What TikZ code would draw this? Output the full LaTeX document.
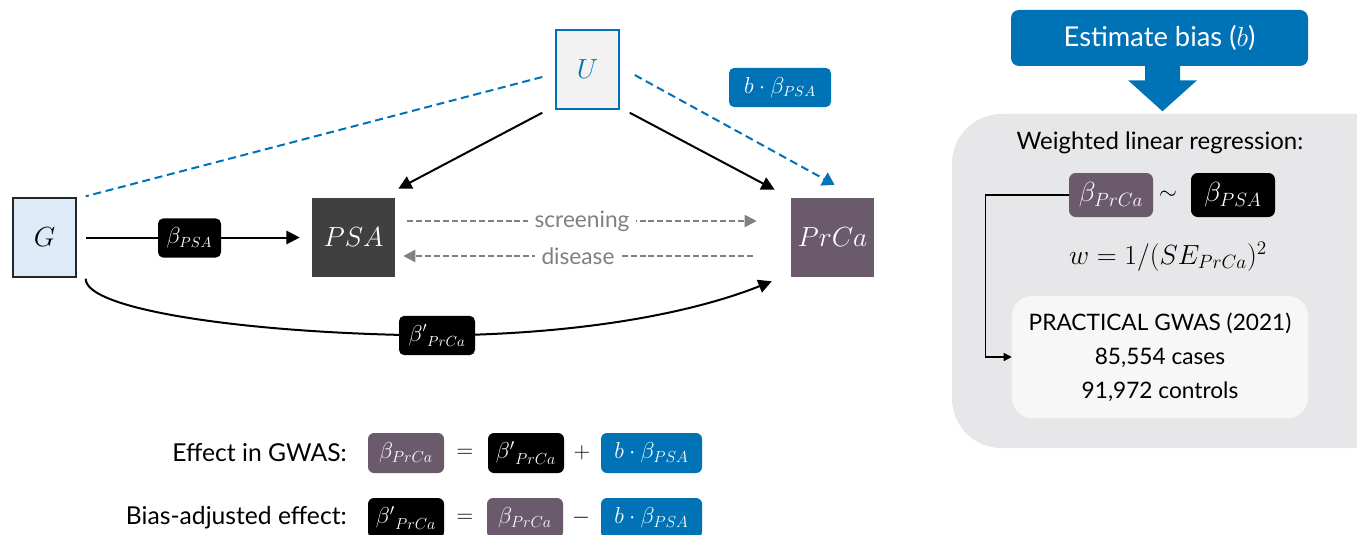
\documentclass[tikz,border=0pt]{standalone}
\usepackage{fontspec}
\setmainfont{Lato}
\usetikzlibrary{arrows.meta,calc}
\definecolor{myblue}{RGB}{0,114,182}
\definecolor{prca}{RGB}{107,90,107}
\definecolor{darkbox}{RGB}{64,64,64}
\definecolor{gfill}{RGB}{221,235,248}
\definecolor{ufill}{RGB}{242,242,242}
\definecolor{panel}{RGB}{231,230,233}
\definecolor{inner}{RGB}{247,247,247}
\definecolor{gline}{RGB}{128,128,128}
\pgfdeclarelayer{bg}
\pgfdeclarelayer{edges}
\pgfsetlayers{bg,edges,main}
\begin{document}
\begin{tikzpicture}[x=0.75pt,y=-0.75pt,
  var/.style={minimum height=59.25pt, inner sep=0pt, font=\fontsize{22}{26}\selectfont},
  lab/.style={rounded corners=4pt, inner sep=0pt, minimum height=29.5pt, text=white, font=\fontsize{16}{19}\selectfont},
  labbig/.style={rounded corners=5pt, inner sep=0pt, minimum width=63pt, minimum height=33pt, text=white, font=\fontsize{21}{25}\selectfont},
  labeq/.style={rounded corners=4.5pt, inner sep=0pt, minimum height=30pt, text=white, font=\fontsize{17}{20}\selectfont},
  txt/.style={font=\fontsize{18}{22}\selectfont, inner sep=0pt},
  sym/.style={font=\fontsize{17}{20}\selectfont, inner sep=0pt},
  arr/.style={line width=1.5pt, -{Triangle[length=10pt,width=10pt]}},
  bdash/.style={myblue, line width=1.5pt, dash pattern=on 6pt off 3.5pt},
  gdash/.style={gline, line width=1.2pt, dash pattern=on 4.5pt off 2.2pt, -{Triangle[length=9pt,width=9pt]}},
  glab/.style={fill=white, text=gline, inner xsep=5pt, inner ysep=1pt, font=\fontsize{17}{20}\selectfont}
]
\useasboundingbox (0,0) rectangle (1357,535);

% ---------- causal diagram ----------
\node[var, draw=black!85, line width=1.1pt, fill=gfill, minimum width=47.25pt] (G) at (44.5,237.5) {$G$};
\node[var, fill=darkbox, text=white, minimum width=62.25pt] (PSA) at (353.5,237.5) {$PSA$};
\node[var, fill=prca, text=white, minimum width=62.25pt] (PrCa) at (832.5,237.5) {$PrCa$};
\node[var, draw=myblue, line width=1.1pt, fill=ufill, text=myblue, minimum width=47.25pt] (U) at (587.5,69.5) {$U$};

\node[lab, fill=black, minimum width=47.25pt] (lPSA) at (189.5,238) {$\beta_{PSA}$};
\node[lab, fill=myblue, minimum width=76.5pt] (lb) at (780,87.5) {$b\cdot\beta_{PSA}$};
\node[lab, fill=black, minimum width=57pt] (lPrCa) at (437,335.5) {${\beta'}_{PrCa}$};

\begin{pgfonlayer}{edges}
\draw[arr] ($(G.east)+(9,0)$) -- ($(PSA.west)+(-12,0)$);
\draw[arr] ($(G.south east)+(9,1)$) .. controls (85,310) and (250,334) .. (lPrCa.center)
  .. controls (600,334) and (705,308) .. ($(PrCa.south west)+(-19,4)$);
\draw[arr] ($(U.south west)+(-13,3)$) -- ($(PSA.north east)+(3,-9)$);
\draw[arr] ($(U.south east)+(10,3)$) -- ($(PrCa.north west)+(-16,-8)$);
\draw[bdash] ($(U.west)+(-13,7.5)$) -- ($(G.north east)+(9,-1)$);
\draw[bdash, -{Triangle[length=9pt,width=11pt]}] ($(U.east)+(15,5.5)$) -- ($(PrCa.north)+(2,-13)$);
\draw[gdash] ($(PSA.east)+(12,-16.5)$) -- node[glab] (scr) {screening} ($(PrCa.west)+(-34,-16.5)$);
\draw[gdash] ($(PrCa.west)+(-38,18.5)$) -- node[glab] (dis) {disease} ($(PSA.east)+(8,18.5)$);
\end{pgfonlayer}

% ---------- right panel ----------
\node[fill=myblue, rounded corners=6pt, minimum width=222.75pt, minimum height=42pt, text=white, txt, font=\fontsize{20.5}{24}\selectfont] (est) at (1159.5,38) {Estimate bias ($b$)};
\fill[myblue] ($(est.south)+(-14.5,-1)$) -- ($(est.south)+(-14.5,14)$) -- ($(est.south)+(-31.5,14)$)
  -- ($(est.south)+(3,45)$) -- ($(est.south)+(37.5,14)$) -- ($(est.south)+(20.5,14)$) -- ($(est.south)+(20.5,-1)$) -- cycle;

\begin{pgfonlayer}{bg}
\fill[panel, rounded corners=37pt] (1362,114) -- (952,114) -- (952,448) -- (1362,448);
\end{pgfonlayer}

\node[txt] (wlr) at (1160,143) {Weighted linear regression:};
\node[labbig, fill=prca] (rPrCa) at (1111,195) {$\beta_{PrCa}$};
\node[sym, font=\fontsize{18}{22}\selectfont] (tl) at (1168,195) {$\sim$};
\node[labbig, fill=black] (rPSA) at (1233,195) {$\beta_{PSA}$};
\node[font=\fontsize{20}{24}\selectfont, inner sep=0pt] (wf) at (1168,257) {$w = 1/(SE_{PrCa})^2$};
\node[fill=inner, rounded corners=15pt, minimum width=222pt, minimum height=91.5pt, align=center,
  font=\fontsize{17}{25.5}\selectfont] (prac) at (1160,357) {PRACTICAL GWAS (2021)\\85,554 cases\\91,972 controls};
\begin{pgfonlayer}{edges}
\draw[line width=1.1pt, -{Triangle[length=6pt,width=6pt]}] (rPrCa.west) -- ++(-83,0) |- (prac.west);
\end{pgfonlayer}

% ---------- equations ----------
\node[txt, anchor=east, font=\fontsize{18.5}{22}\selectfont] (eg) at (347,453) {Effect in GWAS:};
\node[labeq, fill=prca, minimum width=57pt] (e1) at (406,453) {$\beta_{PrCa}$};
\node[sym] (eq1) at (465,453) {$=$};
\node[labeq, fill=black, minimum width=57pt] (e2) at (526,453) {${\beta'}_{PrCa}$};
\node[sym] (pl) at (582,453) {$+$};
\node[labeq, fill=myblue, minimum width=75.75pt] (e3) at (651.5,453) {$b\cdot\beta_{PSA}$};

\node[txt, anchor=east, font=\fontsize{18.5}{22}\selectfont] (ba) at (347,518) {Bias-adjusted effect:};
\node[labeq, fill=black, minimum width=57pt] (f1) at (406,518) {${\beta'}_{PrCa}$};
\node[sym] (eq2) at (465,518) {$=$};
\node[labeq, fill=prca, minimum width=57pt] (f2) at (525,518) {$\beta_{PrCa}$};
\node[sym] (mi) at (581,518) {$-$};
\node[labeq, fill=myblue, minimum width=75.75pt] (f3) at (651.5,518) {$b\cdot\beta_{PSA}$};
\end{tikzpicture}
\end{document}
